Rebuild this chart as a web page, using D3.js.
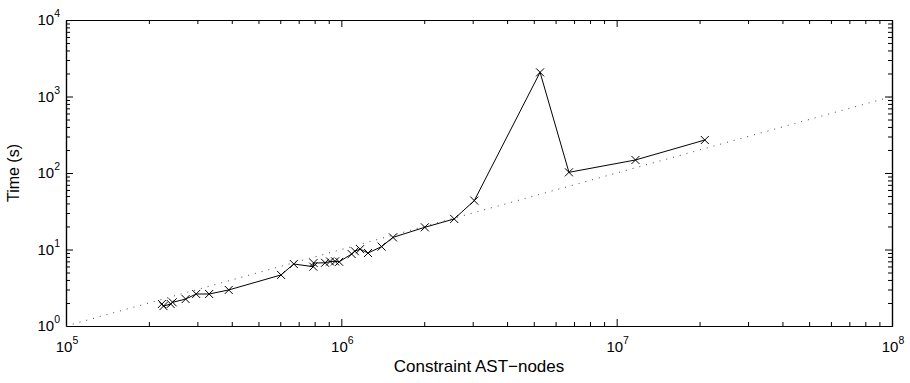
<!DOCTYPE html>
<html>
<head>
<meta charset="utf-8">
<script src="https://cdn.jsdelivr.net/npm/d3@7"></script>
<style>
  body { margin: 0; background: #fff; }
  svg { display: block; font-family: "Liberation Sans", Arial, Helvetica, sans-serif; }
</style>
</head>
<body>
<div id="chart"></div>
<script>
// constraint AST-nodes vs solve time
var nodes = [2.23e5, 2.26e5, 2.40e5, 2.44e5, 2.72e5, 2.97e5, 3.31e5, 3.90e5,
    6.04e5, 6.72e5, 7.91e5, 7.93e5, 8.73e5, 9.10e5, 9.49e5, 9.82e5,
    1.09e6, 1.12e6, 1.17e6, 1.25e6, 1.40e6, 1.54e6, 2.01e6, 2.57e6,
    3.04e6, 5.27e6, 6.71e6, 1.17e7, 2.09e7];
var times = [1.94, 1.82, 1.94, 2.04, 2.25, 2.62, 2.62, 2.96,
    4.65, 6.46, 5.96, 6.67, 6.7, 6.97, 7.0, 6.9,
    8.73, 9.5, 10.1, 9.0, 10.9, 14.4, 19.5, 25.1,
    43.5, 2070, 102, 148, 270];

// linear reference (dotted)
var refNodes = [1e5, 1e8];
var refTimes = [1, 1000];

var xTickExp = [5, 6, 7, 8];
var yTickExp = [0, 1, 2, 3, 4];

var width = 910, height = 383;
var margin = {top: 20, right: 18, bottom: 57, left: 66};
var w = width - margin.left - margin.right,
    h = height - margin.top - margin.bottom;

var x = d3.scaleLog().domain([1e5, 1e8]).range([0, w]);
var y = d3.scaleLog().domain([1, 1e4]).range([h, 0]);

var svg = d3.select("#chart").append("svg")
    .attr("width", width)
    .attr("height", height);

var g = svg.append("g")
    .attr("transform", "translate(" + margin.left + "," + margin.top + ")");

// major / minor tick values
function majors(exps) { return exps.map(function(e) { return Math.pow(10, e); }); }
function minors(exps) {
    var m = [];
    for (var i = 0; i < exps.length - 1; i++) {
        for (var k = 2; k <= 9; k++) m.push(k * Math.pow(10, exps[i]));
    }
    return m;
}

var axes = [
    {gen: d3.axisBottom(x), t: "translate(0," + h + ")", v: xTickExp},
    {gen: d3.axisTop(x), t: "translate(0,0)", v: xTickExp},
    {gen: d3.axisLeft(y), t: "translate(0,0)", v: yTickExp},
    {gen: d3.axisRight(y), t: "translate(" + w + ",0)", v: yTickExp}
];

axes.forEach(function(a) {
    g.append("g").attr("class", "minor").attr("transform", a.t)
        .call(a.gen.tickValues(minors(a.v)).tickSizeInner(-4).tickSizeOuter(0).tickFormat(""));
    g.append("g").attr("class", "major").attr("transform", a.t)
        .call(a.gen.tickValues(majors(a.v)).tickSizeInner(-7).tickSizeOuter(0).tickFormat(""));
});

g.selectAll(".domain").attr("stroke", "#000").attr("stroke-width", 1.2);
g.selectAll(".tick line").attr("stroke", "#000").attr("stroke-width", 1);

// tick labels with superscripts
var xl = g.append("g").selectAll("text").data(xTickExp).enter().append("text")
    .attr("x", function(d) { return x(Math.pow(10, d)) + 1; })
    .attr("y", h + 26)
    .attr("text-anchor", "middle")
    .attr("font-size", 15);
xl.append("tspan").text("10");
xl.append("tspan").attr("dy", -8).attr("font-size", 10.5).text(function(d) { return d; });

var yl = g.append("g").selectAll("text").data(yTickExp).enter().append("text")
    .attr("x", -6)
    .attr("y", function(d) { return y(Math.pow(10, d)) + 5; })
    .attr("text-anchor", "end")
    .attr("font-size", 15);
yl.append("tspan").text("10");
yl.append("tspan").attr("dy", -8).attr("font-size", 10.5).text(function(d) { return d; });

// axis titles
g.append("text")
    .attr("x", w / 2)
    .attr("y", h + 46)
    .attr("text-anchor", "middle")
    .attr("font-size", 17)
    .text("Constraint AST\u2212nodes");

g.append("text")
    .attr("transform", "translate(-47," + (h / 2) + ") rotate(-90)")
    .attr("text-anchor", "middle")
    .attr("font-size", 16)
    .text("Time (s)");

// dotted reference
g.append("path")
    .datum(d3.zip(refNodes, refTimes))
    .attr("fill", "none")
    .attr("stroke", "#444")
    .attr("stroke-width", 1)
    .attr("stroke-dasharray", "1,6")
    .attr("d", d3.line().x(function(d) { return x(d[0]); }).y(function(d) { return y(d[1]); }));

// data line
var pts = d3.zip(nodes, times);
g.append("path")
    .datum(pts)
    .attr("fill", "none")
    .attr("stroke", "#000")
    .attr("stroke-width", 1)
    .attr("d", d3.line().x(function(d) { return x(d[0]); }).y(function(d) { return y(d[1]); }));

// x markers
var s = 4;
g.append("g").selectAll("path.mk").data(pts).enter().append("path")
    .attr("class", "mk")
    .attr("fill", "none")
    .attr("stroke", "#000")
    .attr("stroke-width", 1)
    .attr("d", function(d) {
        var cx = x(d[0]), cy = y(d[1]);
        return "M" + (cx - s) + "," + (cy - s) + "L" + (cx + s) + "," + (cy + s) +
               "M" + (cx - s) + "," + (cy + s) + "L" + (cx + s) + "," + (cy - s);
    });
</script>
</body>
</html>
